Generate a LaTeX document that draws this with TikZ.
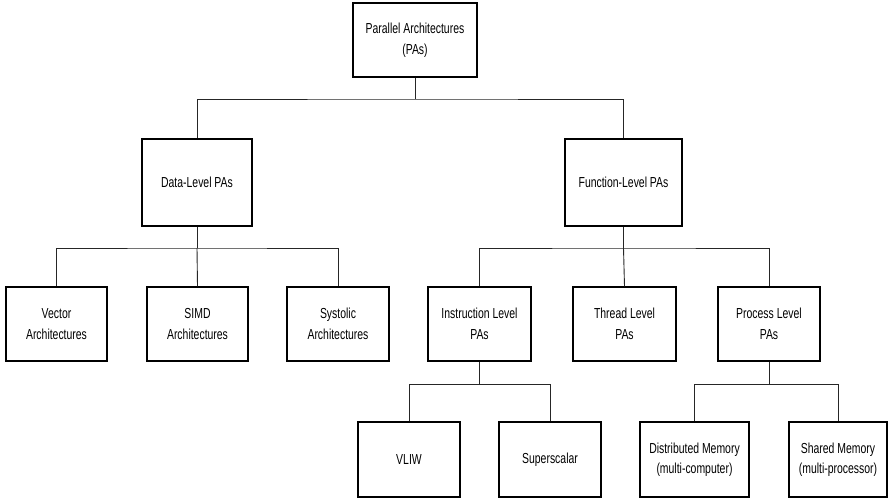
\documentclass[tikz,border=0pt]{standalone}
\usepackage{fontspec}
\setmainfont{Liberation Sans}[FakeStretch=0.72]
\begin{document}
\begin{tikzpicture}[x=1pt,y=-1pt,
  box/.style={draw=black,line width=1.3pt,fill=white,align=center,inner sep=0pt,
    font=\fontsize{14.5}{20.5}\selectfont,minimum height=74pt},
  conn/.style={draw=black!85,line width=0.9pt}]
\useasboundingbox (0,0) rectangle (888,499);
\node[box,minimum width=124pt] (top) at (415,40) {Parallel Architectures\\(PAs)};
\node[box,minimum width=110pt,minimum height=87pt] (data) at (197,182.5) {Data-Level PAs};
\node[box,minimum width=117pt,minimum height=87pt] (func) at (623.5,182.5) {Function-Level PAs};
\node[box,minimum width=101pt] (vec) at (56.5,324) {Vector\\Architectures};
\node[box,minimum width=101pt] (simd) at (197.5,324) {SIMD\\Architectures};
\node[box,minimum width=102pt] (sys) at (338,324) {Systolic\\Architectures};
\node[box,minimum width=103pt] (ins) at (479.5,324) {Instruction Level\\PAs};
\node[box,minimum width=103pt] (thr) at (624.5,324) {Thread Level\\PAs};
\node[box,minimum width=102pt] (pro) at (769,324) {Process Level\\PAs};
\node[box,minimum width=102pt,minimum height=75pt] (vliw) at (409,459.5) {VLIW};
\node[box,minimum width=102pt,minimum height=75pt] (sup) at (550,459.5) {Superscalar};
\node[box,minimum width=109pt,minimum height=75pt] (dist) at (694.5,459.5) {Distributed Memory\\(multi-computer)};
\node[box,minimum width=98pt,minimum height=75pt] (shm) at (838,459.5) {Shared Memory\\(multi-processor)};
\coordinate (b1) at (415,99);
\coordinate (b2) at (197,248);
\coordinate (b3) at (623.5,248);
\coordinate (b4) at (479.5,384);
\coordinate (b5) at (769,384);
\draw[conn] (top.south) -- (b1);
\draw[conn] (data.north) |- (b1) -| (func.north);
\draw[conn] (data.south) -- (b2);
\draw[conn] (vec.north) |- (b2) -| (sys.north);
\draw[conn] (b2) -- (simd.north);
\draw[conn] (func.south) -- (b3);
\draw[conn] (ins.north) |- (b3) -| (pro.north);
\draw[conn] (b3) -- (thr.north);
\draw[conn] (ins.south) -- (b4);
\draw[conn] (vliw.north) |- (b4) -| (sup.north);
\draw[conn] (pro.south) -- (b5);
\draw[conn] (dist.north) |- (b5) -| (shm.north);
\end{tikzpicture}
\end{document}
